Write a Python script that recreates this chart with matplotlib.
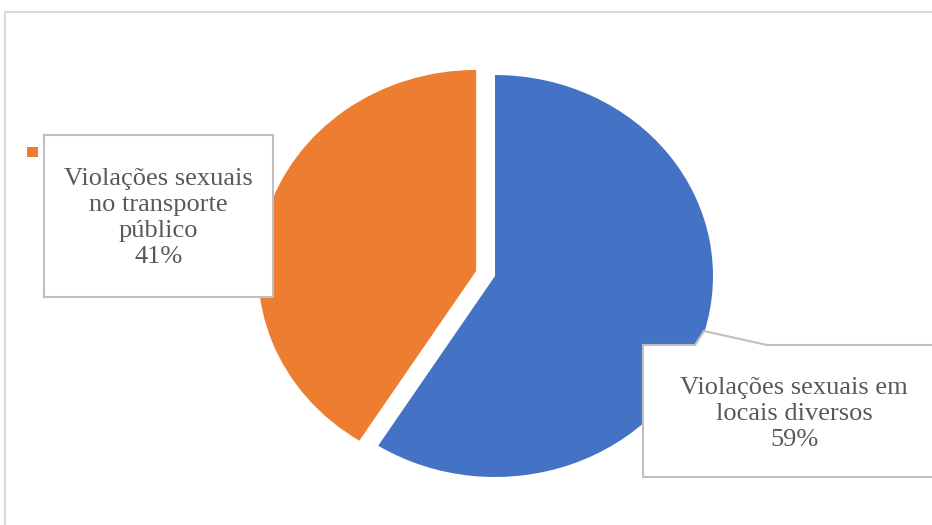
import matplotlib
matplotlib.use("Agg")
import matplotlib.pyplot as plt
from matplotlib.patches import Rectangle, Polygon

# shares of the two groups of cases (percent)
categorias = ["Violações sexuais em locais diversos",
              "Violações sexuais no transporte público"]
valores = [59, 41]
cores = ["#4472C4", "#ED7D31"]
rotulos = [["Violações sexuais em", "locais diversos"],
           ["Violações sexuais", "no transporte", "público"]]

W, H = 932, 525
fig = plt.figure(figsize=(W / 100, H / 100), dpi=100)

def px(x, y):
    # pixel position (from top-left) -> figure fraction
    return (x / W, 1 - y / H)

# pie axes fill the figure; limits chosen so the pie sits right of centre
ax = fig.add_axes([0, 0, 1, 1])
ax.pie(valores, colors=cores, startangle=90, counterclock=False,
       explode=[0, 0.09], wedgeprops=dict(linewidth=0), radius=1)
cx, cy, rx, ry = 495, 276, 218, 201
ax.set_aspect("auto")
ax.set_xlim(-cx / rx, (W - cx) / rx)
ax.set_ylim(-(H - cy) / ry, cy / ry)
ax.axis("off")

# outer chart border
fig.patches.append(Rectangle(px(5, 540), (W + 20) / W, (540 - 12) / H,
                             transform=fig.transFigure, fill=False,
                             edgecolor="#d9d9d9", linewidth=1.5, zorder=0))

# legend marker (mostly hidden by the label box)
fig.patches.append(Rectangle(px(27, 157), 11 / W, 10 / H, transform=fig.transFigure,
                             facecolor=cores[1], edgecolor="none", zorder=3))

caixa_cor = "#bfbfbf"
texto_cor = "#595959"
fonte = dict(family="Liberation Serif", size=19, color=texto_cor,
             ha="center", va="center", linespacing=1.24, zorder=6)

# label box for the orange slice
fig.patches.append(Rectangle(px(44, 297), (273 - 44) / W, (297 - 135) / H,
                             transform=fig.transFigure, facecolor="white",
                             edgecolor=caixa_cor, linewidth=1.5, zorder=5))
fig.text(*px(158.5, 218), "\n".join(rotulos[1] + [f"{valores[1]}%"]), **fonte)

# callout box for the blue slice, with a pointer towards the pie
pts = [(643, 345), (695, 345), (704, 331), (767, 345), (950, 345),
       (950, 477), (643, 477)]
fig.patches.append(Polygon([px(x, y) for x, y in pts], closed=True,
                           transform=fig.transFigure, facecolor="white",
                           edgecolor=caixa_cor, linewidth=1.5, zorder=5))
fig.text(*px(794, 414), "\n".join(rotulos[0] + [f"{valores[0]}%"]), **fonte)

fig.savefig("out.png", dpi=100)
